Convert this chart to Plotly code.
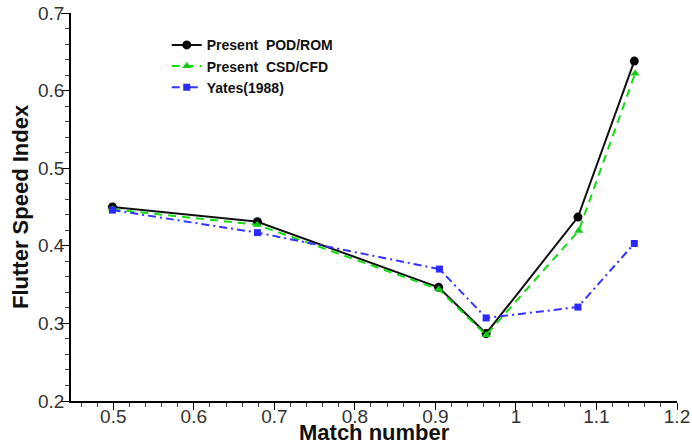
import plotly.graph_objects as go

mach_rom = [0.499, 0.679, 0.904, 0.963, 1.077, 1.147]
fsi_rom = [0.450, 0.431, 0.3465, 0.287, 0.437, 0.638]

mach_cfd = [0.499, 0.679, 0.904, 0.963, 1.078, 1.148]
fsi_cfd = [0.447, 0.427, 0.344, 0.285, 0.4195, 0.622]

mach_yates = [0.499, 0.679, 0.905, 0.963, 1.077, 1.147]
fsi_yates = [0.446, 0.417, 0.370, 0.307, 0.321, 0.403]

x_ticks = [0.5, 0.6, 0.7, 0.8, 0.9, 1.0, 1.1, 1.2]
x_labels = ["0.5", "0.6", "0.7", "0.8", "0.9", "1", "1.1", "1.2"]
y_ticks = [0.2, 0.3, 0.4, 0.5, 0.6, 0.7]
y_labels = ["0.2", "0.3", "0.4", "0.5", "0.6", "0.7"]
x_title = "Match number"
y_title = "Flutter Speed Index"

fig = go.Figure()
fig.add_trace(go.Scatter(
    x=mach_rom, y=fsi_rom, mode="lines+markers",
    name="Present\u00a0 POD/ROM",
    line=dict(color="#111111", width=2),
    marker=dict(symbol="circle", size=9, color="#000000"),
))
fig.add_trace(go.Scatter(
    x=mach_cfd, y=fsi_cfd, mode="lines+markers",
    name="Present\u00a0 CSD/CFD",
    line=dict(color="#11dd11", width=2, dash="8px,6px"),
    marker=dict(symbol="triangle-up", size=8, color="#11cc11"),
))
fig.add_trace(go.Scatter(
    x=mach_yates, y=fsi_yates, mode="lines+markers",
    name="Yates(1988)",
    line=dict(color="#3333ff", width=2, dash="8px,4px,2px,4px"),
    marker=dict(symbol="square", size=7, color="#2a2aff"),
))

axis_font = dict(family="Liberation Sans, Arial, sans-serif", size=19, color="#333333")
title_font = dict(family="Liberation Sans, Arial, sans-serif", size=22, color="#111111", weight="bold")

fig.update_layout(
    width=692, height=445,
    margin=dict(l=71, r=15, t=13, b=44),
    paper_bgcolor="white", plot_bgcolor="white",
    showlegend=True,
    legend=dict(
        x=0.158, y=0.958, xanchor="left", yanchor="top",
        bgcolor="rgba(0,0,0,0)",
        font=dict(family="Liberation Sans, Arial, sans-serif", size=14, color="#111111", weight="bold"),
        tracegroupgap=0, itemwidth=30,
    ),
    xaxis=dict(
        range=[0.4475, 1.2], tickvals=x_ticks, ticktext=x_labels,
        showline=True, linecolor="#000000", linewidth=1.5,
        ticks="outside", ticklen=7, tickwidth=1, tickcolor="#000000",
        minor=dict(dtick=0.02, tick0=0, ticks="outside", ticklen=4, tickcolor="#444444", tickwidth=1),
        showgrid=False, zeroline=False, tickfont=axis_font, automargin=False,
        ticklabelstandoff=-10,
    ),
    yaxis=dict(
        range=[0.2, 0.7], tickvals=y_ticks, ticktext=y_labels,
        showline=True, linecolor="#000000", linewidth=1.5,
        ticks="outside", ticklen=8, tickwidth=1, tickcolor="#000000",
        minor=dict(dtick=0.02, tick0=0, ticks="outside", ticklen=4, tickcolor="#444444", tickwidth=1),
        showgrid=False, zeroline=False, tickfont=axis_font, automargin=False,
        ticklabelstandoff=-7,
    ),
    annotations=[
        dict(text=x_title, xref="paper", yref="paper", x=0.5, y=0,
             xanchor="center", yanchor="middle", yshift=-31, showarrow=False, font=title_font),
        dict(text=y_title, xref="paper", yref="paper", x=0, y=0.5,
             xanchor="center", yanchor="middle", xshift=-51, textangle=-90, showarrow=False, font=title_font),
    ],
)

fig.write_html("out.html", config={"displayModeBar": False},
               post_script="document.body.style.margin='0';")
